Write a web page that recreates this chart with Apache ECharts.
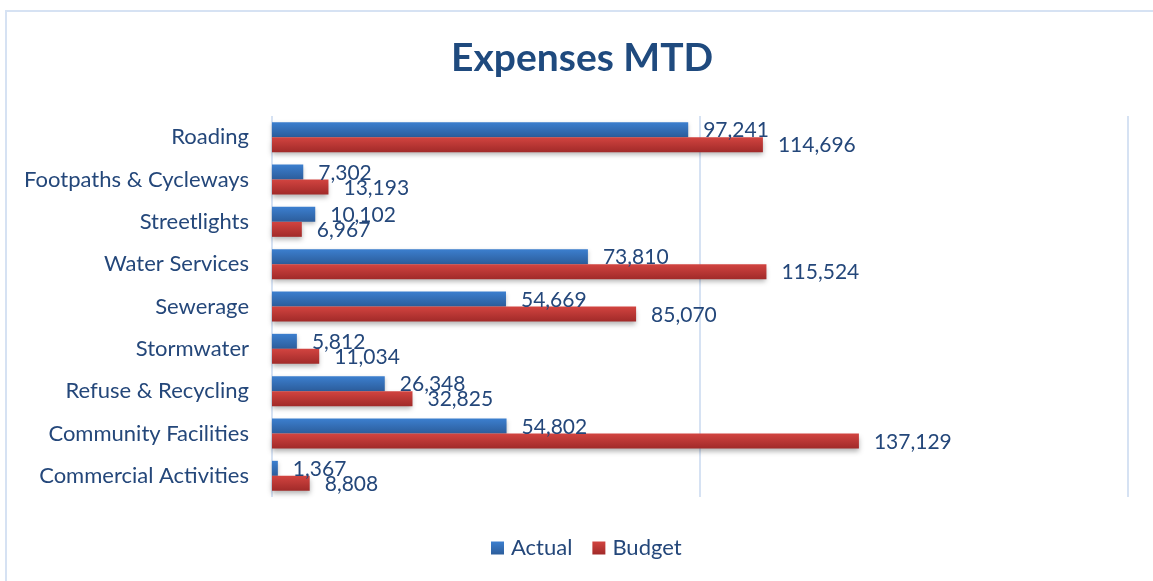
<!DOCTYPE html>
<html>
<head>
<meta charset="utf-8">
<script src="https://cdn.jsdelivr.net/npm/echarts@6/dist/echarts.min.js"></script>
<style>
  html, body { margin: 0; padding: 0; background: #fff; }
  #chart { width: 1153px; height: 581px; }
</style>
</head>
<body>
<div id="chart"></div>
<script>
// 数据
const categories = [
  'Roading', 'Footpaths & Cycleways', 'Streetlights', 'Water Services', 'Sewerage',
  'Stormwater', 'Refuse & Recycling', 'Community Facilities', 'Commercial Activities'
];
const actual = [97241, 7302, 10102, 73810, 54669, 5812, 26348, 54802, 1367];
const budget = [114696, 13193, 6967, 115524, 85070, 11034, 32825, 137129, 8808];

const FONT = 'Lato, "Open Sans", sans-serif';
const TEXT = '#24477a';

function grad(top, bottom) {
  return new echarts.graphic.LinearGradient(0, 0, 0, 1, [
    { offset: 0, color: top },
    { offset: 1, color: bottom }
  ]);
}

const fmt = p => p.value.toLocaleString('en-US');

const chart = echarts.init(document.getElementById('chart'));
chart.setOption({
  animation: false,
  graphic: [{
    type: 'rect',
    shape: { x: 6, y: 11, width: 1200, height: 640 },
    style: { fill: 'none', stroke: '#d6e2f3', lineWidth: 2 },
    silent: true
  }],
  title: {
    text: 'Expenses MTD',
    left: 446,
    top: 34,
    textStyle: { fontFamily: FONT, fontSize: 39, fontWeight: 'bold', color: '#1f4a7e' }
  },
  legend: {
    bottom: 17,
    left: 486,
    itemWidth: 13,
    itemHeight: 13,
    itemGap: 20,
    icon: 'rect',
    textStyle: { fontFamily: FONT, fontSize: 22, color: TEXT, padding: [0, 0, 0, 2] },
    data: ['Actual', 'Budget']
  },
  grid: { left: 272, right: 25, top: 116, bottom: 84 },
  xAxis: {
    type: 'value',
    min: 0,
    max: 200000,
    interval: 100000,
    axisLabel: { show: false },
    axisTick: { show: false },
    axisLine: { show: false },
    splitLine: { show: true, lineStyle: { color: '#d6e2f3', width: 2 } }
  },
  yAxis: {
    type: 'category',
    inverse: true,
    data: categories,
    axisTick: { show: false },
    axisLine: { show: false },
    axisLabel: { fontFamily: FONT, fontSize: 22, color: TEXT, margin: 23 }
  },
  series: [
    {
      name: 'Actual',
      type: 'bar',
      data: actual,
      barWidth: 15,
      barGap: '0%',
      itemStyle: {
        color: grad('#3c7fcf', '#2c5d9b'),
        shadowColor: 'rgba(0,0,0,0.25)', shadowBlur: 4, shadowOffsetY: 2
      },
      label: {
        show: true, position: 'right', distance: 15, offset: [0, 1],
        formatter: fmt, fontFamily: FONT, fontSize: 21, color: TEXT
      }
    },
    {
      name: 'Budget',
      type: 'bar',
      data: budget,
      barWidth: 15,
      itemStyle: {
        color: grad('#d24440', '#a12a29'),
        shadowColor: 'rgba(0,0,0,0.3)', shadowBlur: 5, shadowOffsetY: 3
      },
      label: {
        show: true, position: 'right', distance: 15, offset: [0, 1],
        formatter: fmt, fontFamily: FONT, fontSize: 21, color: TEXT
      }
    }
  ]
});
</script>
</body>
</html>
